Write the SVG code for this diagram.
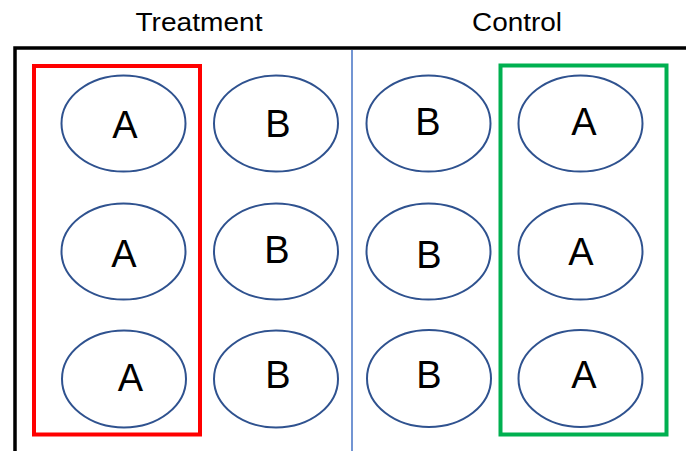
<svg xmlns="http://www.w3.org/2000/svg" width="686" height="451" viewBox="0 0 686 451">
  <style>
    .title { font-family: "Liberation Sans", Arial, sans-serif; font-size: 26px; fill: #000; text-anchor: middle; }
    .well ellipse { fill: #fff; stroke: #2F528F; stroke-width: 2; }
    .well text { font-family: "Liberation Sans", Arial, sans-serif; font-size: 38px; fill: #000; text-anchor: middle; }
    .frame { stroke: #000; stroke-width: 3.5; fill: none; }
    .divider { stroke: #4472C4; stroke-width: 1.5; }
    .group-box { fill: none; stroke-width: 4; }
  </style>

  <rect width="686" height="451" fill="#fff"/>

  <!-- column headers -->
  <text class="title" x="199" y="31" textLength="127" lengthAdjust="spacingAndGlyphs">Treatment</text>
  <text class="title" x="517" y="31" textLength="90" lengthAdjust="spacingAndGlyphs">Control</text>

  <!-- outer frame (top and left edges) and centre divider -->
  <g id="frame">
    <polyline class="frame" points="15,451 15,48 686,48"/>
    <line class="divider" x1="352" y1="50" x2="352" y2="451"/>
  </g>

  <!-- wells -->
  <g id="well-r1c1" class="well"><ellipse cx="123.5" cy="123.5" rx="62" ry="48"/><text x="125" y="138">A</text></g>
  <g id="well-r1c2" class="well"><ellipse cx="276" cy="123.5" rx="62" ry="48"/><text x="278" y="137">B</text></g>
  <g id="well-r1c3" class="well"><ellipse cx="428.5" cy="123.5" rx="62" ry="48"/><text x="428" y="135">B</text></g>
  <g id="well-r1c4" class="well"><ellipse cx="580.5" cy="123.5" rx="62" ry="48"/><text x="584" y="135">A</text></g>

  <g id="well-r2c1" class="well"><ellipse cx="123.5" cy="251.5" rx="62" ry="48"/><text x="124" y="267">A</text></g>
  <g id="well-r2c2" class="well"><ellipse cx="276" cy="251.5" rx="62" ry="48"/><text x="277" y="263">B</text></g>
  <g id="well-r2c3" class="well"><ellipse cx="428.5" cy="251.5" rx="62" ry="48"/><text x="429" y="268">B</text></g>
  <g id="well-r2c4" class="well"><ellipse cx="580.5" cy="251.5" rx="62" ry="48"/><text x="581" y="265">A</text></g>

  <g id="well-r3c1" class="well"><ellipse cx="124" cy="379" rx="62" ry="48.5"/><text x="130.5" y="391">A</text></g>
  <g id="well-r3c2" class="well"><ellipse cx="276" cy="379" rx="62" ry="48.5"/><text x="278" y="388">B</text></g>
  <g id="well-r3c3" class="well"><ellipse cx="429" cy="378.5" rx="62" ry="48.5"/><text x="429" y="388">B</text></g>
  <g id="well-r3c4" class="well"><ellipse cx="580.5" cy="378.5" rx="62" ry="48.5"/><text x="584" y="388">A</text></g>

  <!-- highlighted columns -->
  <g id="treatment-box"><rect class="group-box" stroke="#FF0000" x="34" y="66" width="166" height="368.5"/></g>
  <g id="control-box"><rect class="group-box" stroke="#00B050" x="500.5" y="65.5" width="166" height="369"/></g>
</svg>
